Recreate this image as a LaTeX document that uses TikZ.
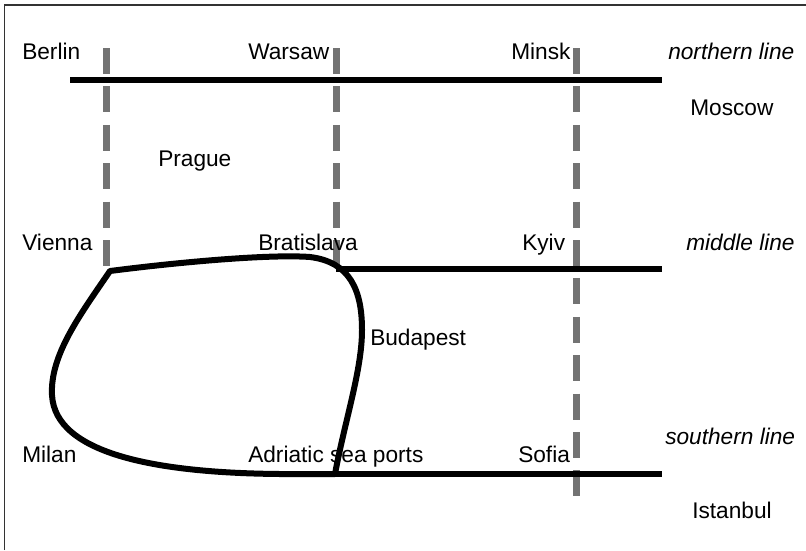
\documentclass[tikz,border=0pt]{standalone}
\usepackage{fontspec}
\setmainfont{Liberation Sans}
\begin{document}
\begin{tikzpicture}[x=0.75pt,y=-0.75pt,
  lbl/.style={anchor=base west,inner sep=0pt,font=\fontsize{17pt}{19pt}\selectfont},
  ilbl/.style={lbl,font=\fontsize{17pt}{19pt}\selectfont\itshape},
  rail/.style={line width=4.5pt,black},
  border/.style={line width=1.1pt,black!80},
  zone/.style={line width=5.25pt,black!55,dash pattern=on 19.5pt off 9.3pt}]
\useasboundingbox (0,0) rectangle (806,550);
% frame (only left and top visible)
\draw[border] (4.5,550) -- (4.5,5) -- (806,5);
% dashed meridians
\draw[zone] (106,48) -- (106,268);
\draw[zone] (336,48) -- (336,268);
\draw[zone] (576,48) -- (576,500);
% horizontal lines
\draw[rail] (70,80) -- (662,80);
\draw[rail] (336,269) -- (662,269);
\draw[rail] (333,474) -- (662,474);
% loop
\draw[rail,line join=round]
  (110,271) .. controls (180,262) and (270,254) .. (310,257)
  .. controls (350,262) and (362,290) .. (362,330)
  .. controls (362,370) and (345,420) .. (335,474)
  -- (280,474)
  .. controls (160,473) and (55,455) .. (52,395)
  .. controls (50,355) and (80,315) .. (110,271) -- cycle;
% labels
\node[lbl] (berlin) at (22,59) {Berlin};
\node[lbl] (warsaw) at (248,59) {Warsaw};
\node[lbl] (minsk) at (511,59) {Minsk};
\node[ilbl] (nline) at (668,59) {northern line};
\node[lbl] (moscow) at (690,115) {Moscow};
\node[lbl] (prague) at (158,166) {Prague};
\node[lbl] (vienna) at (22,250) {Vienna};
\node[lbl] (bratislava) at (258,250) {Bratislava};
\node[lbl] (kyiv) at (522,250) {Kyiv};
\node[ilbl] (mline) at (686,250) {middle line};
\node[lbl] (budapest) at (370,345) {Budapest};
\node[lbl] (milan) at (22,462) {Milan};
\node[lbl] (adriatic) at (248,462) {Adriatic sea ports};
\node[lbl] (sofia) at (518,462) {Sofia};
\node[ilbl] (sline) at (665,444) {southern line};
\node[lbl] (istanbul) at (692,518) {Istanbul};
\end{tikzpicture}
\end{document}
